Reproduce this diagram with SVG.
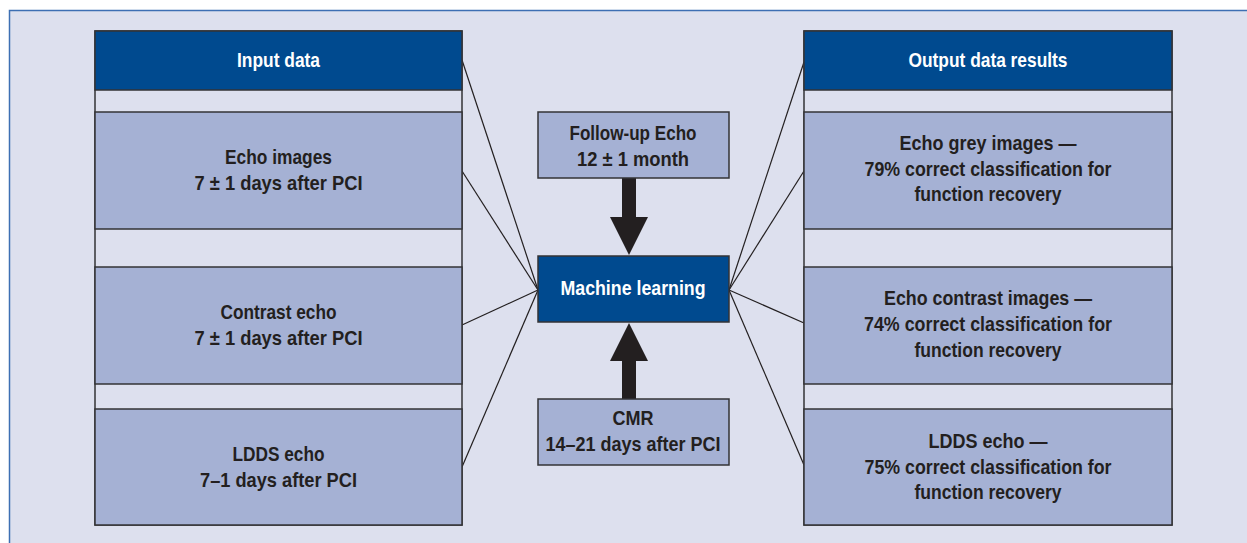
<svg xmlns="http://www.w3.org/2000/svg" width="1247" height="543" viewBox="0 0 1247 543">
<style>
.t{font-family:"Liberation Sans Narrow","Liberation Sans",Arial,sans-serif;font-weight:bold;font-size:21px;fill:#231f20;text-anchor:middle}
.w{fill:#ffffff}
.box{fill:#a5b1d4;stroke:#333336;stroke-width:1.5}
.strip{fill:#dde0ee;stroke:#333336;stroke-width:1.5}
.head{fill:#004a8f;stroke:#333336;stroke-width:1.5}
.ln{stroke:#231f20;stroke-width:1.2;fill:none}
</style>
<rect x="0" y="0" width="1247" height="543" fill="#ffffff"/>
<rect x="9.5" y="10.5" width="1250" height="545" fill="#dde0ee" stroke="#3d6fb3" stroke-width="1.5"/>

<g id="connectors">
<line class="ln" x1="462" y1="60" x2="538" y2="290"/>
<line class="ln" x1="462" y1="171" x2="538" y2="290"/>
<line class="ln" x1="462" y1="325" x2="538" y2="290"/>
<line class="ln" x1="462" y1="467" x2="538" y2="290"/>
<line class="ln" x1="729" y1="290" x2="804" y2="62"/>
<line class="ln" x1="729" y1="290" x2="804" y2="171"/>
<line class="ln" x1="729" y1="290" x2="804" y2="323"/>
<line class="ln" x1="729" y1="290" x2="804" y2="465"/>
<polygon fill="#231f20" points="622,178 636,178 636,217 648,217 629,255 610,217 622,217"/>
<polygon fill="#231f20" points="622,399 636,399 636,361 648,361 629,323 610,361 622,361"/>
</g>

<g id="input-column">
<rect class="strip" x="95" y="31" width="367" height="494"/>
<rect class="head" x="95" y="31" width="367" height="59"/>
<rect class="box" x="95" y="112" width="367" height="117"/>
<rect class="box" x="95" y="267" width="367" height="117"/>
<rect class="box" x="95" y="409" width="367" height="116"/>
</g>
<g id="input-header"><text class="t w" x="278.5" y="67" textLength="83" lengthAdjust="spacingAndGlyphs">Input data</text></g>
<g id="echo-images">
<text class="t" x="278.5" y="164" textLength="107" lengthAdjust="spacingAndGlyphs">Echo images</text>
<text class="t" x="278.5" y="190" textLength="168" lengthAdjust="spacingAndGlyphs">7 ± 1 days after PCI</text>
</g>
<g id="contrast-echo">
<text class="t" x="278.5" y="319" textLength="116" lengthAdjust="spacingAndGlyphs">Contrast echo</text>
<text class="t" x="278.5" y="345" textLength="168" lengthAdjust="spacingAndGlyphs">7 ± 1 days after PCI</text>
</g>
<g id="ldds-echo">
<text class="t" x="278.5" y="461" textLength="92" lengthAdjust="spacingAndGlyphs">LDDS echo</text>
<text class="t" x="278.5" y="487" textLength="157" lengthAdjust="spacingAndGlyphs">7–1 days after PCI</text>
</g>

<g id="follow-up-echo">
<rect class="box" x="538" y="112" width="191" height="66"/>
<text class="t" x="633" y="140" textLength="127" lengthAdjust="spacingAndGlyphs">Follow-up Echo</text>
<text class="t" x="633" y="166" textLength="112" lengthAdjust="spacingAndGlyphs">12 ± 1 month</text>
</g>
<g id="machine-learning">
<rect class="head" x="538" y="256" width="191" height="66"/>
<text class="t w" x="633" y="295" textLength="145" lengthAdjust="spacingAndGlyphs">Machine learning</text>
</g>
<g id="cmr">
<rect class="box" x="538" y="399" width="191" height="66"/>
<text class="t" x="633" y="425" textLength="41" lengthAdjust="spacingAndGlyphs">CMR</text>
<text class="t" x="633" y="451" textLength="175" lengthAdjust="spacingAndGlyphs">14–21 days after PCI</text>
</g>

<g id="output-column">
<rect class="strip" x="804" y="31" width="368" height="494"/>
<rect class="head" x="804" y="31" width="368" height="59"/>
<rect class="box" x="804" y="112" width="368" height="117"/>
<rect class="box" x="804" y="267" width="368" height="117"/>
<rect class="box" x="804" y="409" width="368" height="116"/>
</g>
<g id="output-header"><text class="t w" x="988" y="67" textLength="159" lengthAdjust="spacingAndGlyphs">Output data results</text></g>
<g id="echo-grey">
<text class="t" x="988" y="150" textLength="177" lengthAdjust="spacingAndGlyphs">Echo grey images —</text>
<text class="t" x="988" y="176" textLength="247" lengthAdjust="spacingAndGlyphs">79% correct classification for</text>
<text class="t" x="988" y="201" textLength="147" lengthAdjust="spacingAndGlyphs">function recovery</text>
</g>
<g id="echo-contrast">
<text class="t" x="988" y="305" textLength="208" lengthAdjust="spacingAndGlyphs">Echo contrast images —</text>
<text class="t" x="988" y="331" textLength="248" lengthAdjust="spacingAndGlyphs">74% correct classification for</text>
<text class="t" x="988" y="357" textLength="147" lengthAdjust="spacingAndGlyphs">function recovery</text>
</g>
<g id="ldds-result">
<text class="t" x="988" y="448" textLength="119" lengthAdjust="spacingAndGlyphs">LDDS echo —</text>
<text class="t" x="988" y="474" textLength="247" lengthAdjust="spacingAndGlyphs">75% correct classification for</text>
<text class="t" x="988" y="499" textLength="147" lengthAdjust="spacingAndGlyphs">function recovery</text>
</g>
</svg>
